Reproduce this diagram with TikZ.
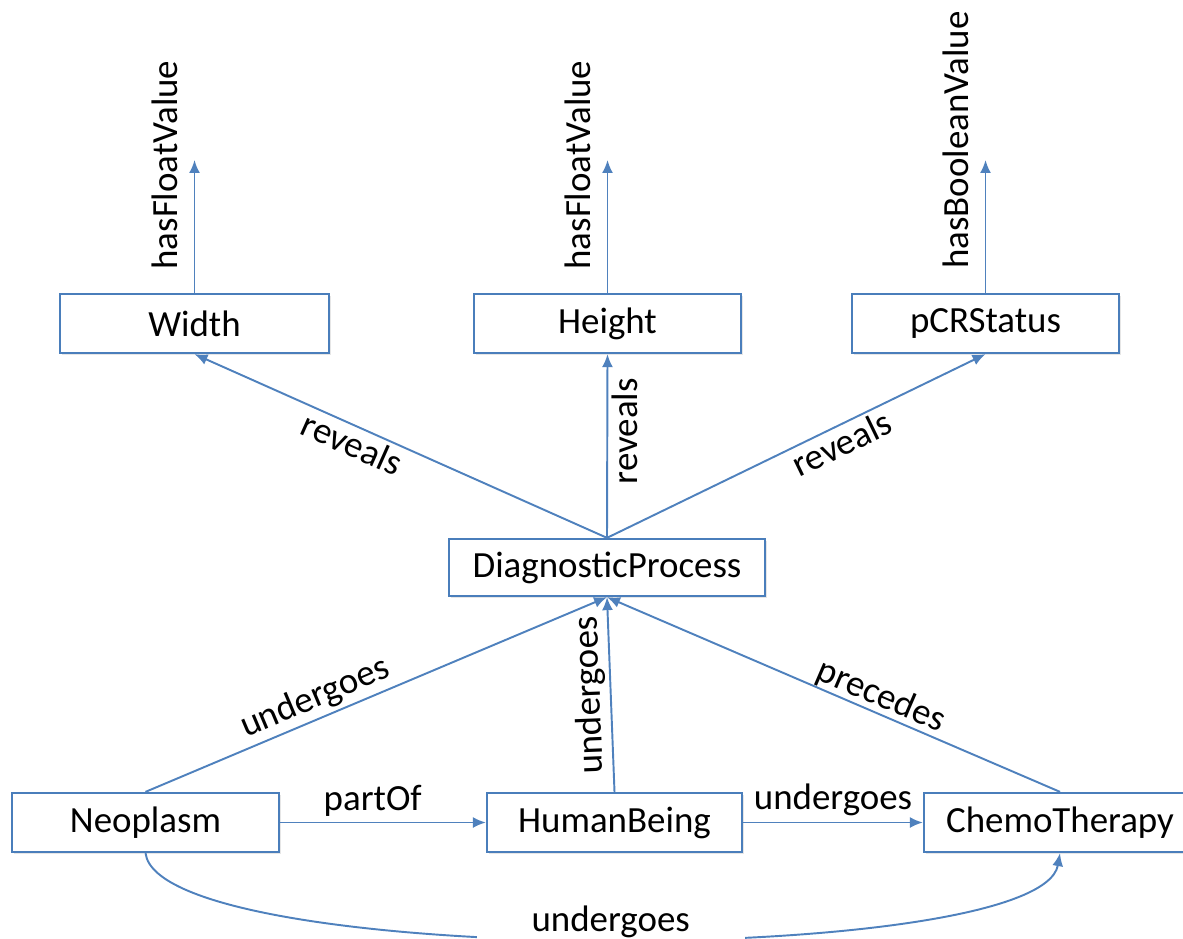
\documentclass[tikz,border=0pt]{standalone}
\usepackage{fontspec}
\setmainfont{Carlito}
\usetikzlibrary{arrows.meta,positioning,shadows}
\definecolor{linkblue}{RGB}{79,129,189}
\definecolor{boxblue}{RGB}{74,126,187}

\begin{document}
\begin{tikzpicture}[x=0.02cm, y=-0.02cm, font=\fontsize{21}{25}\selectfont,
  ar/.style={-{Latex[length=2.6mm, width=2.2mm]}, linkblue, line width=1.1pt},
  cls/.style={draw=boxblue, line width=1.3pt, fill=white, minimum height=1.18cm,
    inner sep=0pt, drop shadow={opacity=0.2, shadow xshift=1.2pt, shadow yshift=-1.2pt}},
  lbl/.style={text=black, inner sep=2pt}]
  \useasboundingbox (0,0) rectangle (1183,939);
  % classes: top row, middle, bottom row
  \node[cls, minimum width=5.38cm] (width)  at (194.5,323.5) {Width};
  \node[cls, minimum width=5.34cm] (height) at (607.5,323.5) {Height};
  \node[cls, minimum width=5.34cm] (pcr)    at (985.5,323.5) {pCRStatus};
  \node[cls, minimum width=6.32cm, minimum height=1.14cm] (diag) at (607,567.5) {DiagnosticProcess};
  \node[cls, minimum width=5.34cm] (neo)    at (145.5,822.5) {Neoplasm};
  \node[cls, minimum width=5.10cm] (human)  at (614.5,822.5) {HumanBeing};
  \node[cls, minimum width=5.44cm] (chemo)  at (1060,822.5) {ChemoTherapy};
  % data properties (free ends)
  \coordinate (wEnd) at (194.5,160);
  \coordinate (hEnd) at (607.5,160);
  \coordinate (pEnd) at (985.5,160);
  \draw[ar] (width) -- (wEnd);
  \draw[ar] (height) -- (hEnd);
  \draw[ar] (pcr) -- (pEnd);
  \node[rotate=90] (wLbl) at (165,165) {hasFloatValue};
  \node[rotate=90] (hLbl) at (578,165) {hasFloatValue};
  \node[rotate=90] (pLbl) at (956,140) {hasBooleanValue};
  % reveals
  \draw[ar] (diag.north) -- (width.south) node[lbl, sloped, below, pos=0.6] {reveals};
  \draw[ar] (diag.north) -- (height.south) node[lbl, sloped, below, pos=0.58] {reveals};
  \draw[ar] (diag.north) -- (pcr.south) node[lbl, sloped, below, pos=0.6] {reveals};
  % into the diagnostic process
  \draw[ar] (neo.north) -- (diag.south) node[lbl, sloped, above, pos=0.385] {undergoes};
  \draw[ar] (human.north) -- (diag.south)
    node[lbl, sloped, allow upside down, above, pos=0.5] {undergoes};
  \draw[ar] (chemo.north) -- (diag.south) node[lbl, sloped, above, pos=0.41, inner sep=0pt] {precedes};
  % bottom row
  \draw[ar] (neo) -- (human) node[lbl, above=1pt, pos=0.45] {partOf};
  \draw[ar] (human) -- (chemo) node[lbl, above=1pt, pos=0.5] {undergoes};
  \draw[ar] (neo.south) .. controls (160,968) and (1040,968) .. (chemo.south)
    node[lbl, pos=0.5, fill=white, inner xsep=1.1cm, xshift=0.2cm, yshift=0.34cm] {undergoes};
\end{tikzpicture}
\end{document}
